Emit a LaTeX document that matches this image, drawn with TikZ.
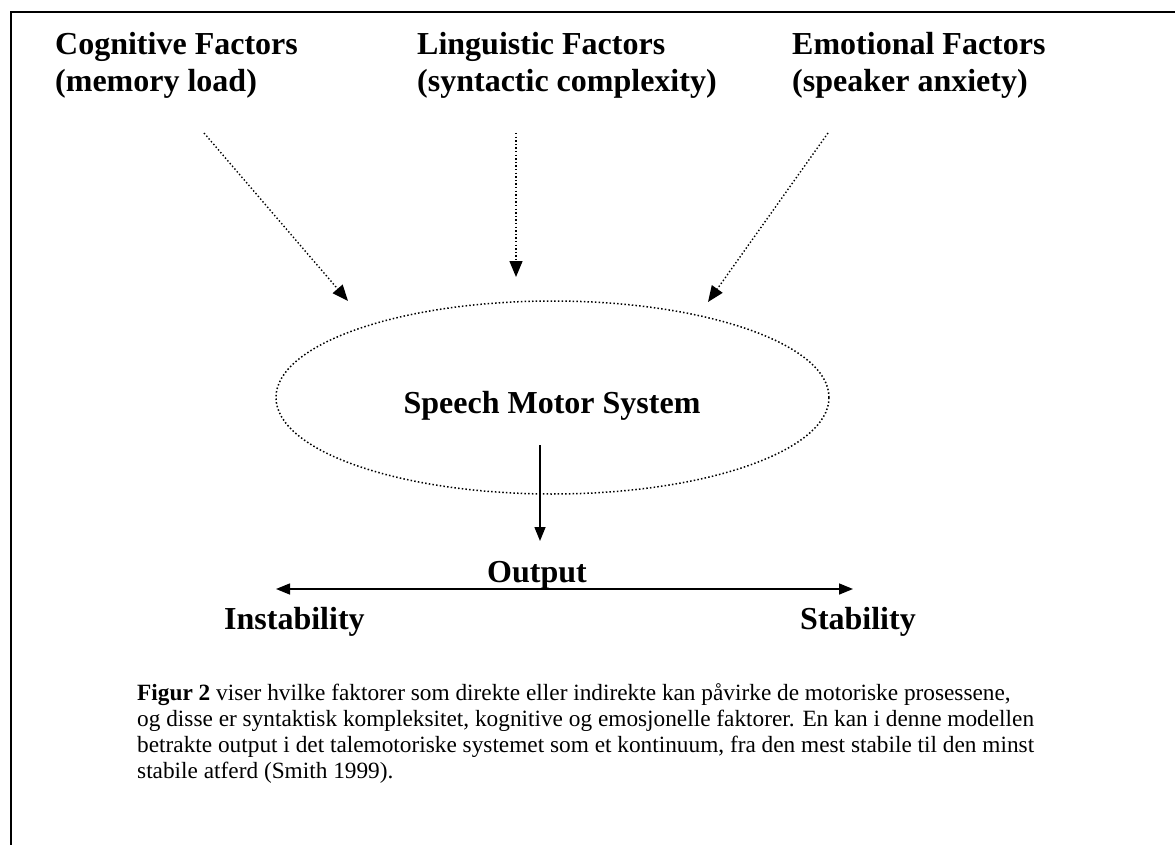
\documentclass[tikz,border=0pt]{standalone}
\usepackage{fontspec}
\setmainfont{Liberation Serif}
\usetikzlibrary{arrows.meta,shapes.geometric}
\begin{document}
\begin{tikzpicture}[x=1pt,y=-1pt,
  head/.style={anchor=base west,inner sep=0pt,font=\fontsize{32}{37}\selectfont\bfseries},
  captext/.style={anchor=base west,inner sep=0pt,font=\fontsize{23.3}{26}\selectfont},
  dotline/.style={line width=1.4pt,dash pattern=on 1.4pt off 2.2pt,-{Triangle[length=16pt,width=13pt]}},
  solidarrow/.style={line width=1.5pt,-{Triangle[length=14pt,width=11pt]}},
  frameline/.style={line width=2pt}]
\useasboundingbox (0,0) rectangle (1175,845);
% frame
\coordinate (ftl) at (11,12);
\coordinate (ftr) at (1175,12);
\coordinate (fbl) at (11,845);
\draw[frameline] (ftr) -- (ftl) -- (fbl);
% headings
\node[head] (cog1) at (55,55) {Cognitive Factors};
\node[head] (cog2) at (55,92) {(memory load)};
\node[head] (lin1) at (417,55) {Linguistic Factors};
\node[head] (lin2) at (417,92) {(syntactic complexity)};
\node[head] (emo1) at (792,55) {Emotional Factors};
\node[head] (emo2) at (792,92) {(speaker anxiety)};
% dotted arrows
\coordinate (a1s) at (204,133);
\coordinate (a1e) at (348,301);
\coordinate (a2s) at (516,133);
\coordinate (a2e) at (516,277);
\coordinate (a3s) at (828,133);
\coordinate (a3e) at (708,302);
\draw[dotline] (a1s) -- (a1e);
\draw[dotline] (a2s) -- (a2e);
\draw[dotline] (a3s) -- (a3e);
% ellipse
\node[ellipse,draw,line width=1.5pt,dash pattern=on 1.5pt off 2.2pt,minimum width=553pt,minimum height=193pt,inner sep=0pt] (sms) at (552.5,397.5) {};
\node[head,anchor=base] (smstext) at (552,413) {Speech Motor System};
% output arrow
\coordinate (o1) at (540,445);
\coordinate (o2) at (540,541);
\draw[solidarrow] (o1) -- (o2);
\node[head,anchor=base] (out) at (537,582) {Output};
\coordinate (hl) at (276,589);
\coordinate (hr) at (853,589);
\draw[line width=1.5pt,{Triangle[length=14pt,width=11pt]}-{Triangle[length=14pt,width=11pt]}] (hl) -- (hr);
\node[head] (inst) at (224,629) {Instability};
\node[head] (stab) at (800,629) {Stability};
% caption
\node[captext] (c1) at (137,700) {\textbf{Figur 2} viser hvilke faktorer som direkte eller indirekte kan påvirke de motoriske prosessene,};
\node[captext] (c2) at (137,726) {og disse er syntaktisk kompleksitet, kognitive og emosjonelle faktorer. En kan i denne modellen};
\node[captext] (c3) at (137,752) {betrakte output i det talemotoriske systemet som et kontinuum, fra den mest stabile til den minst};
\node[captext] (c4) at (137,778) {stabile atferd (Smith 1999).};
\end{tikzpicture}
\end{document}
